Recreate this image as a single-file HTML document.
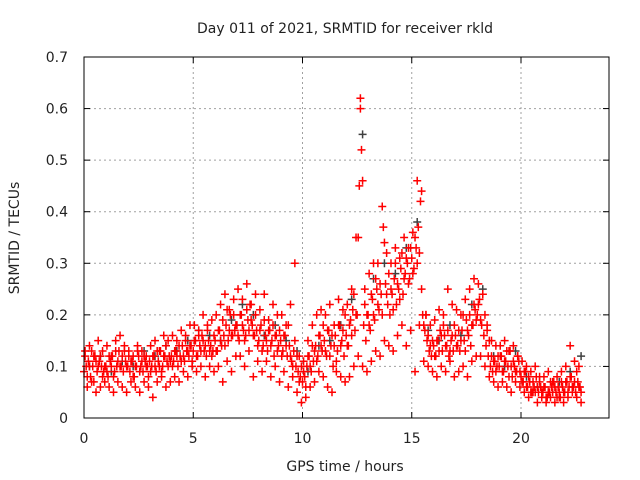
<!DOCTYPE html>
<html><head><meta charset="utf-8"><style>
body{margin:0;background:#fff;}
svg{display:block;font-family:"DejaVu Sans","Liberation Sans",sans-serif;}
</style></head><body>
<svg id="chart" width="640" height="480">
<text x="345" y="33" font-size="14" text-anchor="middle" fill="#222">Day 011 of 2021, SRMTID for receiver rkld</text>
<text x="345" y="471" font-size="14" text-anchor="middle" fill="#222">GPS time / hours</text>
<text transform="translate(19,238) rotate(-90)" font-size="14" text-anchor="middle" fill="#222">SRMTID / TECUs</text>
<g id="grid"></g><g id="ticks"></g><g id="marks"></g>
<rect x="84" y="57" width="525" height="361" fill="none" stroke="#000" stroke-width="1"/>
</svg>
<script>
const xTicks=[0,5,10,15,20];
const yTicks=[0,0.1,0.2,0.3,0.4,0.5,0.6,0.7];
const yTickLabels=["0","0.1","0.2","0.3","0.4","0.5","0.6","0.7"];
const midValues=[.09,.1,.11,.08,.1,.12,.09,.11,.1,.09,
.1,.08,.11,.12,.09,.1,.13,.1,.09,.11,
.1,.09,.11,.08,.1,.12,.1,.09,.11,.1,
.11,.1,.12,.09,.11,.13,.1,.12,.11,.12,
.12,.11,.13,.1,.12,.14,.11,.13,.12,.14,
.13,.15,.12,.14,.16,.13,.12,.15,.14,.13,
.15,.13,.17,.14,.16,.18,.15,.2,.16,.17,
.18,.15,.2,.17,.16,.19,.22,.18,.16,.17,
.15,.18,.14,.16,.13,.17,.15,.12,.16,.14,
.15,.13,.16,.12,.14,.11,.13,.1,.09,.08,
.07,.08,.1,.12,.09,.11,.14,.12,.16,.13,
.15,.12,.17,.14,.1,.16,.13,.18,.15,.12,
.16,.14,.19,.21,.17,.2,.45,.52,.18,.15,
.2,.17,.23,.19,.25,.21,.24,.37,.26,.22,
.2,.24,.27,.22,.25,.29,.24,.28,.3,.27,
.31,.29,.33,.37,.42,.2,.17,.15,.13,.12,
.14,.12,.15,.17,.13,.16,.14,.12,.15,.13,
.16,.14,.13,.17,.15,.19,.16,.14,.18,.21,
.2,.23,.18,.16,.14,.12,.1,.09,.11,.1,
.1,.12,.09,.11,.1,.13,.08,.1,.09,.11,
.08,.07,.09,.06,.07,.05,.06,.08,.05,.06,
.05,.06,.04,.05,.06,.07,.05,.06,.04,.06,
.05,.07,.06,.08,.06,.05,.07,.06];
const mid2Values=[.12,.08,.1,.13,.07,.11,.1,.12,.08,.1,
.09,.12,.1,.08,.13,.11,.1,.12,.14,.1,
.12,.11,.08,.1,.13,.09,.11,.12,.1,.08,
.09,.12,.1,.13,.1,.09,.12,.14,.1,.11,
.1,.13,.12,.14,.11,.12,.15,.13,.14,.11,
.15,.12,.16,.13,.15,.14,.17,.13,.12,.16,
.13,.17,.15,.19,.14,.21,.17,.16,.2,.18,
.16,.2,.18,.15,.21,.17,.19,.16,.2,.14,
.17,.13,.19,.15,.17,.14,.18,.16,.13,.17,
.12,.16,.14,.18,.12,.1,.15,.12,.07,.1,
.09,.06,.12,.1,.14,.13,.11,.16,.14,.18,
.13,.17,.12,.16,.14,.11,.18,.14,.17,.2,
.14,.18,.16,.24,.2,.35,.6,.46,.22,.2,
.18,.24,.2,.27,.22,.26,.2,.34,.24,.28,
.25,.21,.3,.26,.23,.32,.27,.31,.26,.33,
.28,.35,.3,.32,.44,.18,.2,.16,.14,.15,
.12,.15,.13,.16,.18,.14,.17,.13,.16,.18,
.14,.17,.15,.2,.13,.17,.2,.18,.22,.19,
.22,.19,.24,.2,.17,.15,.12,.11,.09,.12,
.12,.09,.11,.13,.08,.1,.11,.09,.12,.09,
.07,.09,.06,.08,.05,.07,.05,.06,.07,.05,
.06,.04,.05,.07,.05,.06,.04,.05,.07,.05,
.07,.05,.08,.06,.07,.09,.06,.05];
const hiValues=[.13,.14,.12,.15,.13,.14,.12,.15,.16,.13,.13,.12,.14,.13,.12,.14,.15,.13,.16,.15,
.16,.15,.17,.16,.18,.18,.17,.2,.18,.19,.2,.22,.24,.21,.23,.25,.23,.26,.22,.24,
.21,.24,.19,.22,.2,.2,.18,.22,.3,.12,.11,.15,.18,.2,.21,.2,.22,.18,.23,.21,
.22,.25,.35,.62,.25,.28,.3,.3,.41,.32,.3,.33,.31,.35,.33,.36,.46,.25,.2,.18,
.19,.21,.2,.25,.22,.21,.2,.23,.25,.27,.26,.24,.18,.15,.14,.14,.15,.13,.14,.12,
.11,.1,.09,.1,.08,.08,.09,.07,.08,.09,.1,.14,.11,.1];
const loValues=[.06,.07,.05,.06,.07,.06,.05,.07,.06,.05,.07,.06,.05,.07,.06,.04,.07,.08,.06,.07,
.08,.07,.09,.08,.1,.09,.1,.08,.1,.09,.1,.07,.11,.09,.12,.12,.1,.13,.08,.11,
.09,.11,.08,.1,.07,.09,.06,.08,.05,.03,.04,.06,.07,.09,.08,.06,.05,.09,.08,.07,
.08,.1,.12,.1,.09,.11,.13,.12,.15,.14,.13,.16,.18,.14,.17,.09,.18,.11,.1,.09,
.08,.1,.09,.11,.08,.09,.1,.08,.11,.12,.12,.1,.08,.07,.06,.07,.06,.05,.07,.06,
.05,.04,.05,.03,.04,.03,.04,.03,.04,.03,.04,.05,.04,.03];
const grayValues=[.1,.12,.09,.11,.1,.13,.12,.14,.13,.15,.17,.16,.15,.19,.22,.2,.16,.18,.15,.13,.09,.14,.15,.18,.23,.55,.27,.3,.28,.33,.38,.17,.15,.18,.16,.22,.25,.12,.1,.13,.08,.06,.05,.07,.09,.12];
const X0=84,X1=609,PXH=21.85,Y0=418,Y1=57,YMAX=0.7;
const sx=t=>X0+t*PXH;
const sy=v=>Y0-(v/YMAX)*(Y0-Y1);
const NS="http://www.w3.org/2000/svg";
const grid=document.getElementById('grid'),ticks=document.getElementById('ticks'),marks=document.getElementById('marks');
function mk(tag,attrs,parent){const e=document.createElementNS(NS,tag);for(const k in attrs)e.setAttribute(k,attrs[k]);parent.appendChild(e);return e;}
xTicks.forEach(t=>{const x=sx(t);
 if(t>0){const g=mk('line',{x1:x,x2:x,y1:Y1,y2:Y0,stroke:'#a0a0a0','stroke-dasharray':'2,3'},grid);
 
 }
 const a=mk('line',{x1:x,x2:x,y1:Y0,y2:Y0-6,stroke:'#000'},ticks);
 
 
 const b=mk('line',{x1:x,x2:x,y1:Y1,y2:Y1+6,stroke:'#000'},ticks);
 
 
 const l=mk('text',{x:x,y:Y0+25,'font-size':14,'text-anchor':'middle',fill:'#222'},ticks);l.textContent=String(t);
 
 });
yTicks.forEach((v,i)=>{const y=sy(v);
 if(v>0&&v<YMAX){const g=mk('line',{x1:X0,x2:X1,y1:y,y2:y,stroke:'#a0a0a0','stroke-dasharray':'2,3'},grid);
 
 }
 const a=mk('line',{x1:X0,x2:X0+6,y1:y,y2:y,stroke:'#000'},ticks);
 
 
 const b=mk('line',{x1:X1,x2:X1-6,y1:y,y2:y,stroke:'#000'},ticks);
 
 
 const l=mk('text',{x:X0-16,y:y+5,'font-size':14,'text-anchor':'end',fill:'#222'},ticks);l.textContent=yTickLabels[i];
 
 });
function plus(t,v,color,name){const x=sx(t),y=sy(v);
 const p=mk('path',{d:`M${x-4},${y}H${x+4}M${x},${y-4}V${y+4}`,stroke:color,'stroke-width':1.5,fill:'none'},marks);
 
 }
grayValues.forEach((v,i)=>plus(0.25+i*0.5,v,'#404040','gray-point'));
midValues.forEach((v,i)=>plus(i*0.1,v,'#ff0000','red-point'));
mid2Values.forEach((v,i)=>plus(0.05+i*0.1,v,'#ff0000','red-point-b'));
hiValues.forEach((v,i)=>plus(0.05+i*0.2,v,'#ff0000','red-point-high'));
loValues.forEach((v,i)=>plus(0.15+i*0.2,v,'#ff0000','red-point-low'));
</script>
</body></html>
